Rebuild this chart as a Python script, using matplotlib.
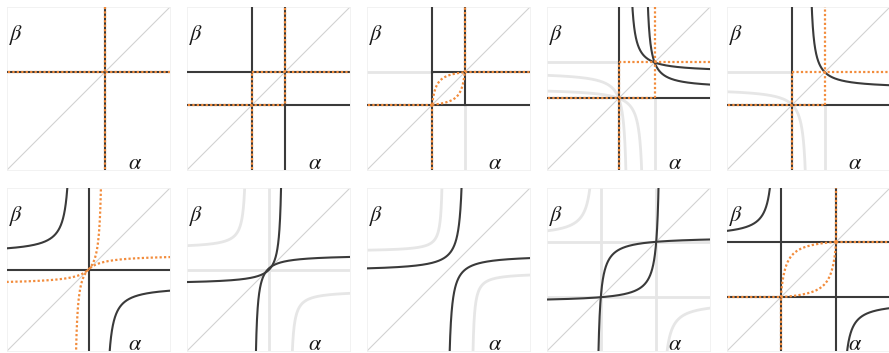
import numpy as np
import matplotlib.pyplot as plt

plt.rcParams['mathtext.fontset'] = 'stix'

DARK = '#3a3a3a'
PALE = '#e6e6e6'
ORANGE = '#f28c3c'
DIAG = '#d2d2d2'

LO, HI = -0.05, 1.05

# straight segments per panel, (x0, y0, x1, y1) in unit coords
# order: top row left->right, then bottom row
dark_lines = [
    [(0.6, LO, 0.6, HI), (LO, 0.6, HI, 0.6)],
    [(0.4, LO, 0.4, HI), (0.6, LO, 0.6, HI), (LO, 0.4, HI, 0.4), (LO, 0.6, HI, 0.6)],
    [(0.4, LO, 0.4, HI), (0.6, 0.4, 0.6, HI), (LO, 0.4, HI, 0.4), (0.4, 0.6, HI, 0.6)],
    [(0.44, LO, 0.44, HI), (LO, 0.44, HI, 0.44)],
    [(0.4, LO, 0.4, HI), (LO, 0.4, HI, 0.4)],
    [(0.5, LO, 0.5, HI), (LO, 0.5, HI, 0.5)],
    [],
    [],
    [],
    [(0.33, LO, 0.33, HI), (0.67, LO, 0.67, HI), (LO, 0.33, HI, 0.33), (LO, 0.67, HI, 0.67)],
]
pale_lines = [
    [],
    [],
    [(0.6, LO, 0.6, 0.4), (LO, 0.6, 0.4, 0.6)],
    [(0.66, LO, 0.66, 0.44), (LO, 0.66, 0.44, 0.66)],
    [(0.6, LO, 0.6, 0.4), (LO, 0.6, 0.4, 0.6)],
    [],
    [(0.5, LO, 0.5, HI), (LO, 0.5, HI, 0.5)],
    [],
    [(0.33, LO, 0.33, HI), (0.67, LO, 0.67, HI), (LO, 0.33, HI, 0.33), (LO, 0.67, HI, 0.67)],
    [],
]
orange_lines = [
    [(0.6, LO, 0.6, HI), (LO, 0.6, HI, 0.6)],
    [(0.4, LO, 0.4, 0.6), (0.4, 0.6, HI, 0.6), (0.6, HI, 0.6, 0.4), (LO, 0.4, 0.6, 0.4)],
    [(LO, 0.4, 0.4, 0.4), (0.4, LO, 0.4, 0.4), (0.6, 0.6, 0.6, HI), (0.6, 0.6, HI, 0.6)],
    [(0.44, LO, 0.44, 0.66), (0.44, 0.66, HI, 0.66), (LO, 0.44, 0.66, 0.44), (0.66, 0.44, 0.66, HI)],
    [(0.4, LO, 0.4, 0.6), (0.4, 0.6, HI, 0.6), (LO, 0.4, 0.6, 0.4), (0.6, 0.4, 0.6, HI)],
    [],
    [],
    [],
    [],
    [(LO, 0.33, 0.33, 0.33), (0.33, LO, 0.33, 0.33), (0.67, 0.67, 0.67, HI), (0.67, 0.67, HI, 0.67)],
]

# hyperbola branches (x - xc)(y - yc) = k, drawn for x in [xa, xb]
dark_curves = [
    [],
    [],
    [],
    [(0.50, 0.60, 0.0096, 0.50, HI), (0.60, 0.50, 0.0096, 0.60, HI)],
    [(0.50, 0.50, 0.0100, 0.50, HI)],
    [(0.40, 0.60, -0.012, LO, 0.40), (0.60, 0.40, -0.012, 0.60, HI)],
    [(0.41, 0.59, -0.0077, 0.41, HI), (0.59, 0.41, -0.0077, LO, 0.59)],
    [(0.60, 0.49, -0.0102, LO, 0.60), (0.49, 0.59, -0.0102, 0.49, HI)],
    [(0.30, 0.70, -0.0111, 0.30, HI), (0.70, 0.30, -0.0111, LO, 0.70)],
    [(0.30, 0.70, -0.0111, LO, 0.30), (0.70, 0.30, -0.0111, 0.70, HI)],
]
pale_curves = [
    [],
    [],
    [],
    [(0.50, 0.60, 0.0096, LO, 0.50), (0.60, 0.50, 0.0096, LO, 0.60)],
    [(0.50, 0.50, 0.0100, LO, 0.50)],
    [],
    [(0.37, 0.63, -0.006, LO, 0.37), (0.63, 0.37, -0.006, 0.63, HI)],
    [(0.47, 0.61, -0.004, LO, 0.47), (0.64, 0.48, -0.005, 0.64, HI)],
    [(0.30, 0.70, -0.0111, LO, 0.30), (0.70, 0.30, -0.0111, 0.70, HI)],
    [],
]
orange_curves = [
    [],
    [],
    [(0.375, 0.625, -0.0056, 0.40, 0.60), (0.625, 0.375, -0.0056, 0.40, 0.60)],
    [],
    [],
    [(0.41, 0.59, -0.0081, 0.41, HI), (0.59, 0.41, -0.0081, LO, 0.59)],
    [],
    [],
    [],
    [(0.30, 0.70, -0.0111, 0.33, 0.67), (0.70, 0.30, -0.0111, 0.33, 0.67)],
]


def branch(xc, yc, k, xa, xb):
    if xa >= xc:
        x = xc + np.geomspace(max(xa - xc, 1e-4), xb - xc, 1500)
    else:
        x = xc - np.geomspace(max(xc - xb, 1e-4), xc - xa, 1500)[::-1]
    return x, yc + k / (x - xc)


W, H = 889, 353
fig = plt.figure(figsize=(W / 100, H / 100), dpi=100)

for i in range(10):
    row, col = divmod(i, 5)
    left = 7 + 180 * col
    top = 7 + 181 * row
    ax = fig.add_axes([left / W, 1 - (top + 163) / H, 163 / W, 163 / H])
    ax.set_xlim(0, 1)
    ax.set_ylim(0, 1)
    ax.set_xticks([])
    ax.set_yticks([])
    for s in ax.spines.values():
        s.set_color('#f0f0f0')
        s.set_linewidth(0.6)

    ax.plot([0, 1], [0, 1], color=DIAG, lw=0.8, zorder=1)

    for x0, y0, x1, y1 in pale_lines[i]:
        ax.plot([x0, x1], [y0, y1], color=PALE, lw=2.0, zorder=2)
    for c in pale_curves[i]:
        ax.plot(*branch(*c), color=PALE, lw=2.0, zorder=2)

    for x0, y0, x1, y1 in dark_lines[i]:
        ax.plot([x0, x1], [y0, y1], color=DARK, lw=1.5, zorder=3)
    for c in dark_curves[i]:
        ax.plot(*branch(*c), color=DARK, lw=1.5, zorder=3)

    for x0, y0, x1, y1 in orange_lines[i]:
        ax.plot([x0, x1], [y0, y1], color=ORANGE, lw=1.6,
                ls=(0, (1, 1)), zorder=4)
    for c in orange_curves[i]:
        ax.plot(*branch(*c), color=ORANGE, lw=1.6, ls=(0, (1, 1)), zorder=4)

    ax.text(0.01, 0.80, r'$\beta$', transform=ax.transAxes, fontsize=16,
            color='#1a1a1a', va='baseline', ha='left', zorder=5)
    ax.text(0.74, 0.005, r'$\alpha$', transform=ax.transAxes, fontsize=16,
            color='#1a1a1a', va='baseline', ha='left', zorder=5, clip_on=False)

fig.savefig('out.png', dpi=100)
